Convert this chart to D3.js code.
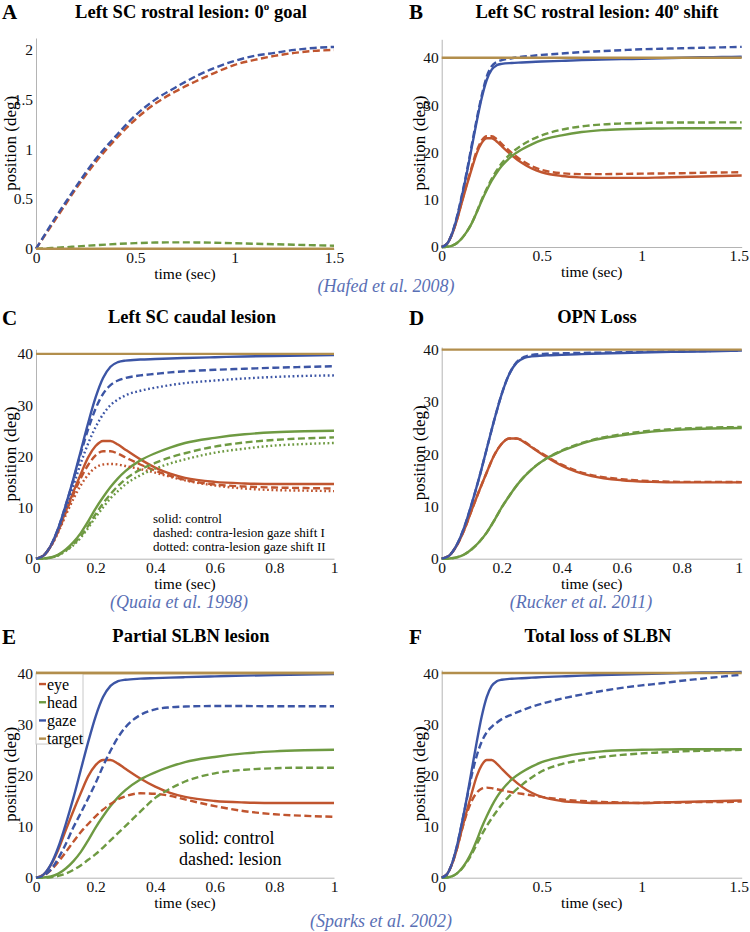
<!DOCTYPE html>
<html><head><meta charset="utf-8">
<script src="https://cdn.jsdelivr.net/npm/d3@7"></script>
<style>
body{margin:0;background:#fff;}
svg{display:block;}
svg text{font-family:"Liberation Serif","DejaVu Serif","Times New Roman",serif;}
</style></head>
<body><svg id="c" width="750" height="932"></svg>
<script>
// ---------- DATA ----------
const T1 = [0,0.025,0.05,0.075,0.1,0.125,0.15,0.175,0.2,0.225,0.25,0.275,0.3,0.35,0.4,0.45,0.5,0.6,0.7,0.8,0.9,1.0];
const T15 = [0,0.025,0.05,0.075,0.1,0.125,0.15,0.175,0.2,0.225,0.25,0.275,0.3,0.35,0.4,0.45,0.5,0.6,0.7,0.8,0.9,1.0,1.1,1.2,1.3,1.4,1.5];
const TA = [0,0.05,0.1,0.15,0.2,0.3,0.4,0.5,0.6,0.7,0.8,0.9,1.0,1.1,1.2,1.3,1.4,1.5];

// control (40 deg gaze shift), on T15
const ctrlGaze = [0,0.6,2.6,6.0,10.5,15.5,21,26.5,31.5,35.3,37.5,38.4,38.7,38.9,39.0,39.1,39.2,39.35,39.5,39.6,39.7,39.8,39.9,40.0,40.1,40.15,40.2];
const ctrlEye  = [0,0.6,2.5,5.5,9.3,13,16.5,19.8,22,23,23,22.3,21.3,19.4,17.8,16.6,15.8,15.0,14.7,14.6,14.6,14.6,14.7,14.8,14.9,15.0,15.1];
const ctrlHead = [0,0.05,0.25,0.8,1.8,3.2,5.0,7.3,9.8,12,14,15.7,17.1,19.2,20.6,21.7,22.6,23.6,24.3,24.7,24.9,25.0,25.05,25.1,25.1,25.1,25.1];

// A: rostral lesion, 0 deg goal (dashed), on TA
const aGaze = [0,0.16,0.32,0.47,0.62,0.9,1.13,1.34,1.5,1.62,1.73,1.82,1.89,1.94,1.97,2.0,2.02,2.03];
const aEye  = [0,0.15,0.3,0.45,0.6,0.87,1.1,1.3,1.46,1.58,1.68,1.77,1.85,1.9,1.94,1.97,1.99,2.0];
const aHead = [0,0.003,0.01,0.015,0.022,0.035,0.047,0.056,0.062,0.064,0.063,0.06,0.055,0.05,0.045,0.04,0.035,0.03];
const aTarget = 0;

// B: rostral lesion, 40 deg shift (dashed), on T15
const bGaze = [0,0.6,2.7,6.2,10.8,15.9,21.5,27,32,36,38.2,39.1,39.5,39.9,40.2,40.4,40.6,40.9,41.2,41.4,41.6,41.8,41.9,42.0,42.1,42.2,42.3];
const bEye  = [0,0.6,2.6,5.6,9.5,13.3,16.9,20.3,22.5,23.4,23.4,22.8,21.8,19.9,18.3,17.1,16.3,15.6,15.4,15.4,15.45,15.5,15.55,15.6,15.7,15.75,15.8];
const bHead = [0,0.05,0.25,0.8,1.8,3.2,5,7.4,10,12.3,14.4,16.2,17.7,19.9,21.5,22.7,23.6,24.8,25.5,25.9,26.1,26.2,26.3,26.3,26.3,26.35,26.35];

// C: caudal lesion, dashed (I) and dotted (II), on T1
const cGazeI = [0,0.6,2.6,6,10.5,15.3,20.5,25.3,29.3,32.2,33.9,34.8,35.3,35.8,36.1,36.4,36.6,36.9,37.1,37.3,37.45,37.6];
const cEyeI  = [0,0.6,2.5,5.4,9,12.5,15.7,18.3,20.2,21,21,20.5,19.8,18.4,17.2,16.2,15.4,14.5,14.1,13.9,13.8,13.7];
const cHeadI = [0,0.05,0.2,0.7,1.6,2.8,4.4,6.4,8.7,10.8,12.6,14.2,15.5,17.4,18.7,19.8,20.6,21.9,22.7,23.2,23.5,23.7];
const cGazeII = [0,0.6,2.5,5.7,9.8,14.2,18.6,22.5,25.7,28.2,30,31.1,31.9,32.8,33.4,33.9,34.3,34.8,35.2,35.5,35.7,35.8];
const cEyeII  = [0,0.6,2.4,5.2,8.5,11.6,14.3,16.4,17.8,18.4,18.5,18.4,18.1,17.5,16.8,16,15.3,14.3,13.7,13.4,13.3,13.2];
const cHeadII = [0,0.04,0.2,0.65,1.5,2.6,4.1,6,8.1,10,11.8,13.2,14.5,16.3,17.6,18.6,19.4,20.7,21.5,22.1,22.4,22.6];

// D: OPN loss (dashed), on T1
const dGaze = [0,0.6,2.6,6.0,10.5,15.5,21,26.5,31.5,35.3,37.6,38.6,39.0,39.2,39.3,39.35,39.4,39.5,39.6,39.7,39.75,39.8];
const dEye  = [0,0.6,2.5,5.5,9.3,13,16.5,19.8,22,23,23,22.4,21.4,19.6,18.0,16.8,16.0,15.2,14.85,14.7,14.7,14.65];
const dHead = [0,0.05,0.25,0.8,1.8,3.2,5.0,7.3,9.8,12,14,15.7,17.1,19.2,20.7,21.8,22.7,23.8,24.5,24.9,25.1,25.2];

// E: partial SLBN lesion (dashed), on T1
const eGaze = [0,0.4,1.6,3.8,6.6,9.8,12.6,15.5,18.5,21.8,24.8,27.4,29.4,31.8,32.9,33.3,33.45,33.55,33.55,33.5,33.5,33.5];
const eEye  = [0,0.4,1.5,3.1,5.0,7.0,8.9,10.5,12,13.3,14.4,15.3,15.9,16.5,16.4,16.0,15.3,14.0,13.0,12.4,12.1,11.9];
const eHead = [0,0.02,0.1,0.35,0.8,1.5,2.4,3.5,4.6,5.9,7.3,8.7,10.1,12.9,15.6,17.4,18.8,20.4,21.1,21.4,21.5,21.5];

// F: total loss of SLBN (dashed), on T15
const fGaze = [0,0.6,2.6,6,10.5,15.3,20,23.8,26.6,28.4,29.5,30.3,31.0,31.9,32.7,33.4,34.0,35.0,35.8,36.5,37.1,37.6,38.0,38.5,38.9,39.3,39.7];
const fEye  = [0,0.6,2.5,5.5,9.2,12.5,15.0,16.6,17.4,17.6,17.5,17.3,17.1,16.7,16.4,16.1,15.8,15.3,15.0,14.8,14.7,14.6,14.7,14.7,14.8,14.8,14.9];
const fHead = [0,0.05,0.25,0.8,1.7,3.0,4.6,6.5,8.4,10.1,11.6,13.0,14.3,16.4,18.1,19.6,20.8,22.2,23.0,23.6,24.0,24.3,24.5,24.7,24.8,24.9,25.0];

const targetDeg = 40;
const legendItems = ["eye","head","gaze","target"];
const xTicks1 = [0,0.2,0.4,0.6,0.8,1];
const xTicks15 = [0,0.5,1,1.5];
const yTicks40 = [0,10,20,30,40];
const yTicksA = [0,0.5,1,1.5,2];

// ---------- STYLE ----------
const FONT = "'Liberation Serif','DejaVu Serif','Times New Roman',serif";
const COL = {eye:"#c0552f", head:"#6e9a42", gaze:"#3c55a5", target:"#b28e4c"};
const DASH = {solid:null, dashed:"7,3.5", dotted:"1.8,2.6"};
const LW = 2.4;
const cite = "#5a70b5";

const svg = d3.select("#c");
const ctl15 = {gaze:ctrlGaze, eye:ctrlEye, head:ctrlHead};
const ctl1 = {gaze:ctrlGaze.slice(0,22), eye:ctrlEye.slice(0,22), head:ctrlHead.slice(0,22)};

function ser(t, vals, kind, style){ return {kind, style, pts: t.map((x,i)=>[x, vals[i]])}; }
function ctrlSeries(t, c){ return ["eye","head","gaze"].map(k=>ser(t, c[k], k, "solid")); }

const panels = [
 {letter:"A", title:["Left SC rostral lesion: 0","o"," goal"], x0:36, x1:334, yb:248.7, yt:38, ymax:2.12, xmax:1.5, xt:xTicks15, yt_:yTicksA, tx:191, ty:18, lx:2, ly:19, yl:26,
  series:[ser(TA,aEye,"eye","dashed"), ser(TA,aHead,"head","dashed"), ser(TA,aGaze,"gaze","dashed")], target:aTarget},
 {letter:"B", title:["Left SC rostral lesion: 40","o"," shift"], x0:441.7, x1:741.7, yb:247, yt:39.3, ymax:43.9, xmax:1.5, xt:xTicks15, yt_:yTicks40, tx:597, ty:18, lx:409, ly:19, yl:22,
  series:ctrlSeries(T15, ctl15).concat([ser(T15,bEye,"eye","dashed"), ser(T15,bHead,"head","dashed"), ser(T15,bGaze,"gaze","dashed")]), target:targetDeg},
 {letter:"C", title:["Left SC caudal lesion"], x0:36, x1:334, yb:558.7, yt:349.3, ymax:40.9, xmax:1, xt:xTicks1, yt_:yTicks40, tx:192, ty:323, lx:2, ly:325, yl:26,
  series:ctrlSeries(T1, ctl1).concat([ser(T1,cEyeI,"eye","dashed"), ser(T1,cHeadI,"head","dashed"), ser(T1,cGazeI,"gaze","dashed"),
     ser(T1,cEyeII,"eye","dotted"), ser(T1,cHeadII,"head","dotted"), ser(T1,cGazeII,"gaze","dotted")]), target:targetDeg},
 {letter:"D", title:["OPN Loss"], x0:441.7, x1:741.7, yb:558.7, yt:347, ymax:40.5, xmax:1, xt:xTicks1, yt_:yTicks40, tx:597, ty:323, lx:409, ly:325, yl:22,
  series:ctrlSeries(T1, ctl1).concat([ser(T1,dEye,"eye","dashed"), ser(T1,dHead,"head","dashed"), ser(T1,dGaze,"gaze","dashed")]), target:targetDeg},
 {letter:"E", title:["Partial SLBN lesion"], x0:36, x1:334, yb:877.7, yt:671, ymax:40.4, xmax:1, xt:xTicks1, yt_:yTicks40, tx:191, ty:642, lx:2, ly:644, yl:26,
  series:ctrlSeries(T1, ctl1).concat([ser(T1,eEye,"eye","dashed"), ser(T1,eHead,"head","dashed"), ser(T1,eGaze,"gaze","dashed")]), target:targetDeg, legend:true},
 {letter:"F", title:["Total loss of SLBN"], x0:441.7, x1:741.7, yb:877.7, yt:670, ymax:40.6, xmax:1.5, xt:xTicks15, yt_:yTicks40, tx:598, ty:642, lx:409, ly:644, yl:22,
  series:ctrlSeries(T15, ctl15).concat([ser(T15,fEye,"eye","dashed"), ser(T15,fHead,"head","dashed"), ser(T15,fGaze,"gaze","dashed")]), target:targetDeg}
];

const axisCol = "#b4b4b4";

panels.forEach(p=>{
  const x = d3.scaleLinear().domain([0,p.xmax]).range([p.x0,p.x1]);
  const y = d3.scaleLinear().domain([0,p.ymax]).range([p.yb,p.yt]);
  const g = svg.append("g").attr("font-family",FONT);

  // letter + title
  g.append("text").attr("x",p.lx).attr("y",p.ly).attr("font-size",21).attr("font-weight","bold").text(p.letter);
  const tt = g.append("text").attr("x",p.tx).attr("y",p.ty).attr("text-anchor","middle").attr("font-size",18.5).attr("font-weight","bold");
  tt.append("tspan").text(p.title[0]);
  if(p.title.length>1){
    tt.append("tspan").attr("font-size",11).attr("dy",-8).text(p.title[1]);
    tt.append("tspan").attr("dy",8).text(p.title[2]);
  }

  // axes
  const fmt = d=>String(d);
  const xa = g.append("g").attr("transform",`translate(0,${p.yb})`)
     .call(d3.axisBottom(x).tickValues(p.xt).tickFormat(fmt).tickSizeInner(0).tickSizeOuter(0).tickPadding(3));
  const ya = g.append("g").attr("transform",`translate(${p.x0},0)`)
     .call(d3.axisLeft(y).tickValues(p.yt_).tickFormat(fmt).tickSizeInner(0).tickSizeOuter(0).tickPadding(3));
  [xa,ya].forEach(a=>{
    a.attr("font-family",FONT).attr("font-size",15.5);
    a.select(".domain").attr("stroke",axisCol).attr("stroke-width",1);
    a.selectAll("text").attr("fill","#111");
  });
  // keep the right-most tick label inside the page
  xa.selectAll(".tick text").filter(d=>x(d)>735).attr("dx",-3);
  g.append("text").attr("x",(p.x0+p.x1)/2).attr("y",p.yb+30).attr("text-anchor","middle").attr("font-size",15.5).text("time (sec)");
  g.append("text").attr("transform",`translate(${p.x0-p.yl},${(p.yb+p.yt)/2}) rotate(-90)`).attr("text-anchor","middle")
     .attr("dominant-baseline","central").attr("font-size",17).text("position (deg)");

  // lines
  const line = d3.line().x(d=>x(d[0])).y(d=>y(d[1])).curve(d3.curveMonotoneX);
  p.series.forEach(s=>{
    g.append("path").attr("d",line(s.pts)).attr("fill","none").attr("stroke",COL[s.kind])
      .attr("stroke-width",LW).attr("stroke-dasharray",DASH[s.style]);
  });
  g.append("path").attr("d",line([[0,p.target],[p.xmax,p.target]])).attr("fill","none").attr("stroke",COL.target).attr("stroke-width",LW);

  if(p.legend){
    const lg = g.append("g");
    const bx = p.x0, by = y(40);
    lg.append("rect").attr("x",bx).attr("y",by).attr("width",47).attr("height",71).attr("fill","#fff").attr("stroke","#c8c8c8").attr("stroke-width",1);
    legendItems.forEach((k,i)=>{
      const yy = by+11+i*18.2;
      lg.append("line").attr("x1",bx+3).attr("x2",bx+10).attr("y1",yy).attr("y2",yy).attr("stroke",COL[k]).attr("stroke-width",LW);
      lg.append("text").attr("x",bx+11).attr("y",yy).attr("dominant-baseline","central").attr("font-size",16).text(k);
    });
    g.append("path").attr("d",line([[0,p.target],[p.xmax,p.target]])).attr("fill","none").attr("stroke",COL.target).attr("stroke-width",LW);
  }
});

// annotations
const annC = ["solid: control","dashed: contra-lesion gaze shift I","dotted: contra-lesion gaze shift II"];
annC.forEach((s,i)=> svg.append("text").attr("font-family",FONT).attr("x",153).attr("y",523+i*14).attr("font-size",13).text(s));
const annE = ["solid: control","dashed: lesion"];
annE.forEach((s,i)=> svg.append("text").attr("font-family",FONT).attr("x",179).attr("y",844+i*21).attr("font-size",18).text(s));

// citations
const cites = [["(Hafed et al. 2008)",386,292],["(Quaia et al. 1998)",179,608],["(Rucker et al. 2011)",581,608],["(Sparks et al. 2002)",381,927]];
cites.forEach(c=> svg.append("text").attr("font-family",FONT).attr("x",c[1]).attr("y",c[2]).attr("text-anchor","middle").attr("font-size",18)
   .attr("font-style","italic").attr("fill",cite).text(c[0]));
</script></body></html>
